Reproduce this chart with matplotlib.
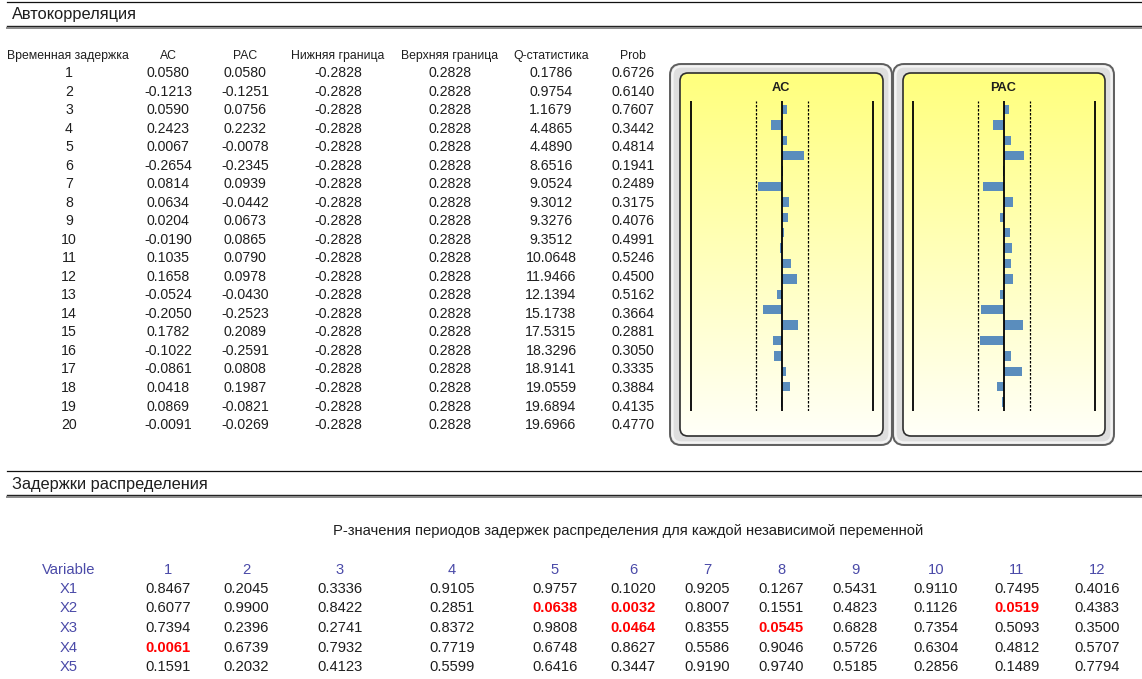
import matplotlib
matplotlib.use("Agg")
import matplotlib.pyplot as plt
import numpy as np
from matplotlib.patches import FancyBboxPatch, Rectangle

plt.rcParams["font.family"] = ["Liberation Sans", "DejaVu Sans"]

W, H = 1142, 679

# ---- Автокорреляция: данные ----
lags = [1, 2, 3, 4, 5, 6, 7, 8, 9, 10, 11, 12, 13, 14, 15, 16, 17, 18, 19, 20]
ac = [0.0580, -0.1213, 0.0590, 0.2423, 0.0067, -0.2654, 0.0814, 0.0634, 0.0204, -0.0190,
      0.1035, 0.1658, -0.0524, -0.2050, 0.1782, -0.1022, -0.0861, 0.0418, 0.0869, -0.0091]
pac = [0.0580, -0.1251, 0.0756, 0.2232, -0.0078, -0.2345, 0.0939, -0.0442, 0.0673, 0.0865,
       0.0790, 0.0978, -0.0430, -0.2523, 0.2089, -0.2591, 0.0808, 0.1987, -0.0821, -0.0269]
lower = [-0.2828, -0.2828, -0.2828, -0.2828, -0.2828, -0.2828, -0.2828, -0.2828, -0.2828, -0.2828,
         -0.2828, -0.2828, -0.2828, -0.2828, -0.2828, -0.2828, -0.2828, -0.2828, -0.2828, -0.2828]
upper = [0.2828, 0.2828, 0.2828, 0.2828, 0.2828, 0.2828, 0.2828, 0.2828, 0.2828, 0.2828,
         0.2828, 0.2828, 0.2828, 0.2828, 0.2828, 0.2828, 0.2828, 0.2828, 0.2828, 0.2828]
q_stat = [0.1786, 0.9754, 1.1679, 4.4865, 4.4890, 8.6516, 9.0524, 9.3012, 9.3276, 9.3512,
          10.0648, 11.9466, 12.1394, 15.1738, 17.5315, 18.3296, 18.9141, 19.0559, 19.6894, 19.6966]
prob = [0.6726, 0.6140, 0.7607, 0.3442, 0.4814, 0.1941, 0.2489, 0.3175, 0.4076, 0.4991,
        0.5246, 0.4500, 0.5162, 0.3664, 0.2881, 0.3050, 0.3335, 0.3884, 0.4135, 0.4770]
acf_headers = ["Временная задержка", "AC", "PAC", "Нижняя граница",
               "Верхняя граница", "Q-статистика", "Prob"]

# ---- Задержки распределения: данные ----
dl_variables = ["X1", "X2", "X3", "X4", "X5"]
dl_lags = [1, 2, 3, 4, 5, 6, 7, 8, 9, 10, 11, 12]
dl_pvalues = [
    [0.8467, 0.2045, 0.3336, 0.9105, 0.9757, 0.1020, 0.9205, 0.1267, 0.5431, 0.9110, 0.7495, 0.4016],
    [0.6077, 0.9900, 0.8422, 0.2851, 0.0638, 0.0032, 0.8007, 0.1551, 0.4823, 0.1126, 0.0519, 0.4383],
    [0.7394, 0.2396, 0.2741, 0.8372, 0.9808, 0.0464, 0.8355, 0.0545, 0.6828, 0.7354, 0.5093, 0.3500],
    [0.0061, 0.6739, 0.7932, 0.7719, 0.6748, 0.8627, 0.5586, 0.9046, 0.5726, 0.6304, 0.4812, 0.5707],
    [0.1591, 0.2032, 0.4123, 0.5599, 0.6416, 0.3447, 0.9190, 0.9740, 0.5185, 0.2856, 0.1489, 0.7794],
]
p_threshold = 0.1

# ---- раскладка (пиксели) ----
TXT = "#1e1e1e"
HDR_BLUE = "#4a4aa8"
BAR = "#5a8dbd"
FS_ROW = 10.2
FS_HDR = 8.8
FS_SEC = 11.8
FS_DL = 10.6

fig = plt.figure(figsize=(W / 100, H / 100), dpi=100)
ax = fig.add_axes([0, 0, 1, 1])
ax.axis("off")


def section(y_top, title):
    ax.plot([7, W], [y_top, y_top], color="#111111", lw=0.9)
    ax.text(12, y_top + 13, title, fontsize=FS_SEC, color=TXT, va="center", ha="left")
    ax.plot([7, W], [y_top + 24, y_top + 24], color="#222222", lw=1.0)
    ax.plot([7, W], [y_top + 26.2, y_top + 26.2], color="#8a8a8a", lw=1.4)


section(2, "Автокорреляция")
section(471, "Задержки распределения")

# таблица автокорреляции
col_x = [69, 168, 245, 338, 450, 551, 633]
hdr_y = 56
row_y0, row_dy = 73, 18.53
clip = Rectangle((0, 40), 129, 30, transform=ax.transData)
t = ax.text(7, hdr_y, acf_headers[0], fontsize=FS_HDR, color=TXT, ha="left", va="center")
t.set_clip_path(clip)
for x, h in zip(col_x[1:], acf_headers[1:]):
    ax.text(x, hdr_y, h, fontsize=FS_HDR, color=TXT, ha="center", va="center")
for i, lag in enumerate(lags):
    y = row_y0 + i * row_dy
    vals = [str(lag), f"{ac[i]:.4f}", f"{pac[i]:.4f}", f"{lower[i]:.4f}",
            f"{upper[i]:.4f}", f"{q_stat[i]:.4f}", f"{prob[i]:.4f}"]
    for x, v in zip(col_x, vals):
        ax.text(x, y, v, fontsize=FS_ROW, color=TXT, ha="center", va="center")


# панели AC / PAC
def panel(x0, x1, title, values, center_px):
    y0, y1 = 64, 445
    outer = FancyBboxPatch((x0, y0), x1 - x0, y1 - y0,
                           boxstyle="round,pad=0,rounding_size=11",
                           facecolor="#dedede", edgecolor="#5e5e5e", lw=1.4)
    ax.add_patch(outer)
    shine = FancyBboxPatch((x0 + 2.5, y0 + 2.5), x1 - x0 - 5, y1 - y0 - 5,
                           boxstyle="round,pad=0,rounding_size=9",
                           facecolor="none", edgecolor="#f4f4f4", lw=1.6)
    ax.add_patch(shine)
    ix0, ix1, iy0, iy1 = x0 + 10, x1 - 9, 73, 436
    inner = FancyBboxPatch((ix0, iy0), ix1 - ix0, iy1 - iy0,
                           boxstyle="round,pad=0,rounding_size=8",
                           facecolor="none", edgecolor="#2e2e2e", lw=1.2, zorder=3)
    ax.add_patch(inner)
    top = np.array([255, 255, 125]) / 255
    bot = np.array([255, 255, 248]) / 255
    f = np.linspace(0, 1, 200)[:, None, None]
    grad = top * (1 - f) + bot * f
    im = ax.imshow(grad, extent=(ix0, ix1, iy1, iy0), origin="upper",
                   aspect="auto", zorder=2)
    im.set_clip_path(inner)
    ax.text(center_px - 1, 88, title, fontsize=9.2, fontweight="bold",
            color=TXT, ha="center", va="center", zorder=4)

    # ось для столбиков
    px_per_unit = 91.0
    ly0, ly1 = 101, 411
    bx = fig.add_axes([ix0 / W, 1 - ly1 / H, (ix1 - ix0) / W, (ly1 - ly0) / H])
    bx.patch.set_alpha(0)
    bx.barh(lags, values, height=0.62, color=BAR, zorder=2)
    bx.axvline(0, color="black", lw=1.3, zorder=3)
    for v in (-1, 1):
        bx.axvline(v, color="black", lw=1.3, zorder=3)
    bx.axvline(lower[0], color="black", lw=0.9, ls=(0, (2, 1.2)), zorder=3)
    bx.axvline(upper[0], color="black", lw=0.9, ls=(0, (2, 1.2)), zorder=3)
    bx.set_xlim((ix0 - center_px) / px_per_unit, (ix1 - center_px) / px_per_unit)
    dy = 15.4
    bx.set_ylim(lags[0] + (ly1 - 109.5) / dy, lags[0] - (109.5 - ly0) / dy)
    bx.axis("off")


panel(670, 892, "AC", ac, 782)
panel(893, 1114, "PAC", pac, 1004)

# таблица задержек распределения
ax.text(628, 531, "P-значения периодов задержек распределения для каждой независимой переменной",
        fontsize=FS_DL, color=TXT, ha="center", va="center")
dl_x = [168, 246, 340, 452, 555, 633, 707, 781, 855, 936, 1017, 1097]
ax.text(69, 570, "Variable", fontsize=FS_DL, color=HDR_BLUE, ha="center", va="center")
for x, lag in zip(dl_x, dl_lags):
    ax.text(x, 570, str(lag), fontsize=FS_DL, color=HDR_BLUE, ha="center", va="center")
for r, (var, row) in enumerate(zip(dl_variables, dl_pvalues)):
    y = 589 + r * 19.5
    ax.text(69, y, var, fontsize=FS_DL, color=HDR_BLUE, ha="center", va="center")
    for x, p in zip(dl_x, row):
        sig = p < p_threshold
        ax.text(x, y, f"{p:.4f}", fontsize=FS_DL, ha="center", va="center",
                color="#ff0000" if sig else TXT,
                fontweight="bold" if sig else "normal")

ax.set_xlim(0, W)
ax.set_ylim(H, 0)
fig.savefig("out.png", dpi=100, facecolor="white")
